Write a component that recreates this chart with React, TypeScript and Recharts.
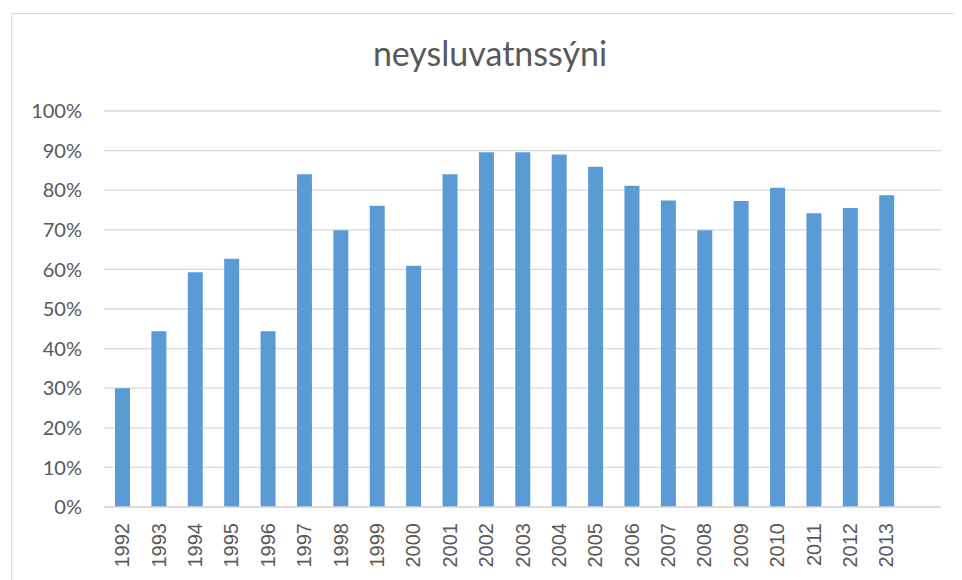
import { BarChart, Bar, XAxis, YAxis, CartesianGrid } from 'recharts';

const YEARS = [
  '1992', '1993', '1994', '1995', '1996', '1997', '1998', '1999', '2000', '2001', '2002',
  '2003', '2004', '2005', '2006', '2007', '2008', '2009', '2010', '2011', '2012', '2013', '',
];

const SHARE = [
  0.30, 0.444, 0.593, 0.627, 0.444, 0.84, 0.699, 0.761, 0.609, 0.84, 0.896,
  0.896, 0.89, 0.859, 0.811, 0.774, 0.699, 0.773, 0.806, 0.742, 0.755, 0.787, null,
];

const Y_TICKS = [0, 0.1, 0.2, 0.3, 0.4, 0.5, 0.6, 0.7, 0.8, 0.9, 1];

const data = YEARS.map((year, i) => ({ year, value: SHARE[i] }));

const XTick = (props: any) => {
  const { x, y, payload } = props;
  return (
    <text
      x={x}
      y={y}
      transform={`rotate(-90, ${x}, ${y})`}
      textAnchor="end"
      dominantBaseline="central"
      fill="#595959"
      fontSize={20}
      fontFamily="'Liberation Sans', Arial, sans-serif"
    >
      {payload.value}
    </text>
  );
};

export default function App() {
  return (
    <div style={{ margin: '-8px 0 0 -8px', width: 962, height: 580, position: 'relative', overflow: 'hidden', background: '#fff' }}>
      {/* chart frame */}
      <div style={{ position: 'absolute', left: 11, top: 13, width: 980, height: 600, border: '1px solid #d9d9d9' }} />

      <div style={{
        position: 'absolute', left: 0, width: 962, top: 33, textAlign: 'center',
        fontFamily: 'Lato, sans-serif', fontWeight: 400, fontSize: 34, color: '#595959',
        paddingLeft: 18, boxSizing: 'border-box', lineHeight: 1.2,
      }}>
        neysluvatnssýni
      </div>

      <BarChart
        width={962}
        height={580}
        data={data}
        margin={{ top: 111, right: 21, bottom: 0, left: 0 }}
        style={{ position: 'absolute', left: 0, top: 0 }}
      >
        <CartesianGrid vertical={false} stroke="#d9d9d9" strokeWidth={1.3} />
        <XAxis
          dataKey="year"
          interval={0}
          height={73}
          tickLine={false}
          tickSize={0}
          tickMargin={16}
          axisLine={{ stroke: '#d9d9d9', strokeWidth: 1.3 }}
          tick={<XTick />}
        />
        <YAxis
          width={104}
          domain={[0, 1]}
          ticks={Y_TICKS}
          interval={0}
          axisLine={false}
          tickLine={false}
          tickSize={0}
          tickMargin={22}
          tickFormatter={(v: number) => `${Math.round(v * 100)}%`}
          tick={{ fill: '#595959', fontSize: 20, fontFamily: 'Lato, sans-serif' }}
        />
        <Bar dataKey="value" fill="#5b9bd5" barSize={15} isAnimationActive={false} />
      </BarChart>
    </div>
  );
}
